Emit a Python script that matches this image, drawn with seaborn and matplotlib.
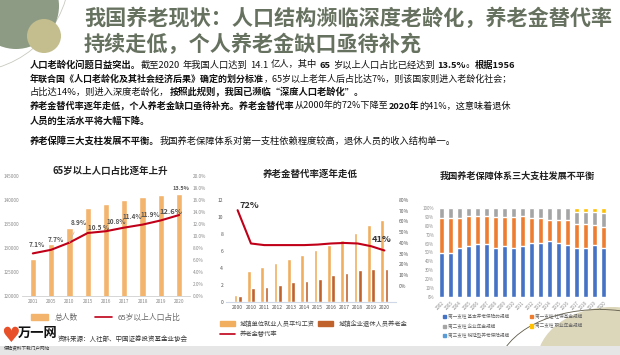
import numpy as np
import pandas as pd
import matplotlib
matplotlib.use("Agg")
import matplotlib.pyplot as plt
from matplotlib.patches import Circle, Ellipse, Rectangle, Patch
from matplotlib.lines import Line2D
import seaborn as sns

W, H = 620, 355

# --- panel 1: total population and share aged 65+ ---
pop_years = ["2001", "2005", "2010", "2015", "2016", "2017", "2018", "2019", "2020"]
total_pop = [127627, 130756, 134091, 138326, 139232, 140011, 140541, 141008, 141212]
aged_share = [7.1, 7.7, 8.9, 10.5, 10.8, 11.4, 11.9, 12.6, 13.5]
aged_labels = ["7.1%", "7.7%", "8.9%", "10.5 %", "10.8%", "11.4%", "11.9%", "12.6%", "13.5%"]

# --- panel 2: wage, pension, replacement rate ---
wage_years = ["2000", "2010", "2011", "2012", "2013", "2014", "2015", "2016",
              "2017", "2018", "2019", "2020"]
avg_wage = [0.85, 3.7, 4.15, 4.6, 5.1, 5.55, 6.1, 6.7, 7.3, 8.1, 9.1, 9.6]
avg_pension = [0.66, 1.7, 1.8, 2.05, 2.3, 2.5, 2.75, 3.2, 3.45, 3.75, 3.9, 3.9]
replace_rate = [70.5, 39.5, 38, 38, 38, 38, 38.5, 39.5, 40, 39.5, 37, 33]

# --- panel 3: three pillars share (%) ---
pillar_years = [str(y) for y in range(2002, 2021)]
pillar1_basic = [50, 50, 55, 57, 59, 60, 55, 57, 55, 57, 61, 61, 63, 61, 58, 55, 55, 58, 55]
pillar1_ssf = [39, 39, 34, 34, 32, 31, 35, 33, 35, 34, 28, 28, 24, 26, 28, 27, 27, 23, 24]
pillar2_ent = [11, 11, 11, 9, 9, 9, 10, 10, 10, 9, 11, 11, 13, 13, 14, 13, 13, 14, 15]
pillar2_occ = [0, 0, 0, 0, 0, 0, 0, 0, 0, 0, 0, 0, 0, 0, 0, 5, 5, 5, 6]
pillar_names = ["第一支柱 基本养老保险的规模", "第一支柱 社保基金规模",
                "第二支柱 企业年金规模", "第二支柱 职业年金规模",
                "第三支柱 税延型养老保险规模"]

C_BAR = "#F3B56E"
C_RED = "#C00018"
C_WAGE = "#F0AE5E"
C_PEN = "#C0622C"
C_P = ["#4472C4", "#ED7D31", "#A5A5A5", "#FFC000", "#5B9BD5"]
TICK = "#8a8a8a"

sns.set_theme(style="white")
plt.rcParams["font.family"] = ["Noto Sans CJK SC", "DejaVu Sans"]
plt.rcParams["axes.unicode_minus"] = False

fig = plt.figure(figsize=(W / 100, H / 100), dpi=100)
fig.patch.set_facecolor("white")
renderer = fig.canvas.get_renderer()


def rect(x0, y0, x1, y1):
    return [x0 / W, 1 - y1 / H, (x1 - x0) / W, (y1 - y0) / H]


def fy(y):
    return 1 - y / H


def ink(txt, size, bold):
    t = fig.text(0, 0, txt, fontsize=size, fontweight="bold" if bold else "normal")
    w = t.get_window_extent(renderer=renderer).width
    t.remove()
    return w


def adv(txt, size, bold):
    # advance width: measure against a trailing reference glyph
    return ink(txt + "口", size, bold) - ink("口", size, bold)


BODY_X, BODY_W = 30, 478


def draw_body_line(parts, y, size, mode=None):
    if mode == "scale":
        natural = sum(adv(t, size, b) for t, b in parts)
        size *= BODY_W / natural
    items = []
    for txt, b in parts:
        for j, piece in enumerate(txt.split(" ")):
            if j > 0:
                items.append((None, b))
            if piece:
                items.append((piece, b))
    widths = [adv(p if p else " ", size, b) for p, b in items]
    n_sp = sum(1 for p, _ in items if p is None)
    if mode == "space" and n_sp:
        used = sum(w for (p, _), w in zip(items, widths) if p)
        gap = max((BODY_W - used) / n_sp, 2.5)
        widths = [w if p else gap for (p, _), w in zip(items, widths)]
    x = BODY_X
    for (p, b), w in zip(items, widths):
        if p:
            fig.text(x / W, fy(y), p, fontsize=size, fontweight="bold" if b else "normal",
                     color="#111111", va="center", ha="left")
        x += w


# decorations (pixel coordinates)
deco = fig.add_axes([0, 0, 1, 1], zorder=-5)
deco.set_xlim(0, W)
deco.set_ylim(H, 0)
deco.axis("off")
deco.add_patch(Circle((-32, -30), 102, fill=False, ec="#c9c9c0", lw=0.6))
deco.add_patch(Circle((16, 6), 43, color="#8D9B84", lw=0))
deco.add_patch(Circle((44, 36), 17, color="#C4BE8E", lw=0))
deco.add_patch(Ellipse((612, 362), 150, 110, color="#DCD6BA", lw=0))
deco.add_patch(Ellipse((600, 372), 205, 125, fill=False, ec="#5e5a48", lw=0.6))
deco.add_patch(Rectangle((0, 346), W, 9, color="#E6E6E6", lw=0))

# title
title_lines = ["我国养老现状：人口结构濒临深度老龄化，养老金替代率",
               "持续走低，个人养老金缺口亟待补充"]
for i, line in enumerate(title_lines):
    fig.text(84 / W, fy(18 + i * 26), line, fontsize=15.2, fontweight="bold",
             color="#66715F", va="center", ha="left")

# body text with mixed weights
body = [
    [("人口老龄化问题日益突出。", True), ("截至2020 年我国人口达到 14.1 亿人，其中 ", False),
     ("65", True), (" 岁以上人口占比已经达到 ", False), ("13.5%", True), ("。", False),
     ("根据1956", True)],
    [("年联合国《人口老龄化及其社会经济后果》确定的划分标准", True),
     ("，65岁以上老年人后占比达7%，则该国家则进入老龄化社会；", False)],
    [("占比达14%，则进入深度老龄化，", False), ("按照此规则，我国已濒临“深度人口老龄化”。", True)],
    [("养老金替代率逐年走低，个人养老金缺口亟待补充。养老金替代率", True),
     ("从2000年的72%下降至", False), ("2020年", True), ("的41%，这意味着退休", False)],
    [("人员的生活水平将大幅下降。", True)],
    [("养老保障三大支柱发展不平衡。", True),
     ("我国养老保障体系对第一支柱依赖程度较高，退休人员的收入结构单一。", False)],
]
body_y = [65, 79, 92, 106, 121, 141]
body_mode = ["space", "scale", None, "scale", None, None]
for parts, y, mode in zip(body, body_y, body_mode):
    draw_body_line(parts, y, 6.7, mode)

# ---------------- panel 1 ----------------
ax1 = fig.add_axes(rect(22, 176, 190, 296))
ax1.set_facecolor("none")
sns.barplot(x=pop_years, y=total_pop, color=C_BAR, saturation=1, width=0.35, ax=ax1)
ax1.set_ylim(120000, 145000)
ax1.set_yticks(np.arange(120000, 145001, 5000))
ax1r = ax1.twinx()
sns.lineplot(x=np.arange(len(pop_years)), y=aged_share, color=C_RED, linewidth=1.5, ax=ax1r)
ax1r.set_ylim(0, 20)
ax1r.set_yticks(np.arange(0, 20.1, 2))
ax1r.set_yticklabels(["{:.1f}%".format(v) for v in np.arange(0, 20.1, 2)])
offsets = [(4, 9), (5, 10), (9, 20), (11, 6), (10, 10), (8, 11), (8, 10), (10, 9), (2, 26)]
sizes = [4.7, 4.7, 4.7, 4.6, 4.6, 4.6, 4.6, 5.4, 4.0]
for i, (v, lab, off, sz) in enumerate(zip(aged_share, aged_labels, offsets, sizes)):
    kw = {}
    if i == 2:
        kw["arrowprops"] = dict(arrowstyle="-", color="#bbbbbb", lw=0.5, shrinkA=2, shrinkB=0)
    ax1r.annotate(lab, (i, v), xytext=off, textcoords="offset pixels",
                  ha="center", va="center", fontsize=sz, fontweight="bold",
                  color="#555555", **kw)
for a in (ax1, ax1r):
    a.set_xlabel(None)
    a.set_ylabel(None)
    for s in a.spines.values():
        s.set_visible(False)
    a.tick_params(length=0, labelsize=3.4, labelcolor=TICK, pad=2)
ax1.spines["bottom"].set_visible(True)
ax1.spines["bottom"].set_color("#d0d0d0")
ax1.spines["bottom"].set_linewidth(0.6)
fig.text(110 / W, fy(171), "65岁以上人口占比逐年上升", fontsize=6.8, fontweight="bold",
         color="#222222", ha="center", va="center")
ax1.legend(handles=[Patch(color=C_BAR), Line2D([], [], color=C_RED, lw=1.2)],
           labels=["总人数", "65岁以上人口占比"], loc="center",
           bbox_to_anchor=(106 / W, fy(318)), bbox_transform=fig.transFigure,
           ncol=2, frameon=False, fontsize=5.6, handlelength=2.2, handleheight=0.8,
           columnspacing=2.2, labelcolor="#666666")
fig.text(58 / W, fy(339), "资料来源：人社部、中国证券投资基金业协会", fontsize=4.7,
         color="#333333", ha="left", va="center")
# logo
fig.text(1 / W, fy(336), "♥", fontsize=15, color="#E8502A", ha="left", va="center",
         family="DejaVu Sans")
fig.text(18 / W, fy(333), "万一网", fontsize=9.5, fontweight="bold", color="#111111",
         ha="left", va="center")
fig.text(4 / W, fy(348), "保险资料下载门户网站", fontsize=3.3, color="#333333",
         ha="left", va="center")

# ---------------- panel 2 ----------------
ax2 = fig.add_axes(rect(226, 200, 396, 302))
ax2.set_facecolor("none")
df2 = pd.DataFrame({
    "year": wage_years + wage_years,
    "value": avg_wage + avg_pension,
    "series": ["城镇单位就业人员平均工资"] * len(wage_years) + ["城镇企业退休人员养老金"] * len(wage_years),
})
sns.barplot(data=df2, x="year", y="value", hue="series", palette=[C_WAGE, C_PEN],
            saturation=1, width=0.62, gap=0.12, legend=False, ax=ax2)
ax2.set_ylim(0, 12)
ax2.set_yticks(np.arange(0, 12.1, 2))
ax2r = ax2.twinx()
sns.lineplot(x=np.arange(len(wage_years)), y=replace_rate, color=C_RED, linewidth=1.5, ax=ax2r)
ax2r.set_ylim(-15, 80)
ax2r.set_yticks(np.arange(0, 81, 10))
ax2r.set_yticklabels(["{}%".format(v) for v in range(0, 81, 10)])
ax2r.annotate("72%", (0, replace_rate[0]), xytext=(12, 5), textcoords="offset pixels",
              ha="center", va="center", fontsize=6.6, fontweight="bold", color="#333333")
ax2r.annotate("41%", (10, replace_rate[10]), xytext=(11, 7), textcoords="offset pixels",
              ha="center", va="center", fontsize=6.6, fontweight="bold", color="#333333")
for a in (ax2, ax2r):
    a.set_xlabel(None)
    a.set_ylabel(None)
    for s in a.spines.values():
        s.set_visible(False)
    a.tick_params(length=0, labelsize=3.6, labelcolor="#555555", pad=2)
ax2.spines["bottom"].set_visible(True)
ax2.spines["bottom"].set_color("#cfd8e6")
ax2.spines["bottom"].set_linewidth(0.8)
fig.text(310 / W, fy(174), "养老金替代率逐年走低", fontsize=6.8, fontweight="bold",
         color="#222222", ha="center", va="center")
ax2.legend(handles=[Patch(color=C_WAGE), Line2D([], [], color=C_RED, lw=1.2), Patch(color=C_PEN)],
           labels=["城镇单位就业人员平均工资", "养老金替代率", "城镇企业退休人员养老金"],
           loc="upper left", bbox_to_anchor=(214 / W, fy(314)), bbox_transform=fig.transFigure,
           ncol=2, frameon=False, fontsize=4.5, handlelength=2.4, handleheight=0.7,
           columnspacing=0.6, labelspacing=0.35, labelcolor="#444444")

# ---------------- panel 3 ----------------
ax3 = fig.add_axes(rect(437, 208, 608, 297))
ax3.set_facecolor("none")
layers = [pillar1_basic, pillar1_ssf, pillar2_ent, pillar2_occ]
cum = np.cumsum(np.array(layers), axis=0)
for k in range(len(layers) - 1, -1, -1):
    sns.barplot(x=pillar_years, y=cum[k], color=C_P[k], saturation=1, width=0.56, ax=ax3)
ax3.set_ylim(0, 100)
ax3.set_yticks(np.arange(0, 101, 10))
ax3.set_yticklabels(["{}%".format(v) for v in range(0, 101, 10)])
ax3.set_xlabel(None)
ax3.set_ylabel(None)
for s in ax3.spines.values():
    s.set_visible(False)
ax3.tick_params(length=0, labelsize=3.2, labelcolor=TICK, pad=2)
plt.setp(ax3.get_xticklabels(), rotation=45, ha="right", rotation_mode="anchor")
fig.text(517 / W, fy(176), "我国养老保障体系三大支柱发展不平衡", fontsize=6.6, fontweight="bold",
         color="#222222", ha="center", va="center")
order = [0, 2, 4, 1, 3]
ax3.legend(handles=[Patch(color=C_P[i]) for i in order],
           labels=[pillar_names[i] for i in order],
           loc="upper left", bbox_to_anchor=(439 / W, fy(310)), bbox_transform=fig.transFigure,
           ncol=2, frameon=False, fontsize=3.3, handlelength=0.7, handleheight=0.7,
           handletextpad=0.4, columnspacing=4.5, labelspacing=0.9, labelcolor="#666666")

fig.savefig("out.png", dpi=100)
